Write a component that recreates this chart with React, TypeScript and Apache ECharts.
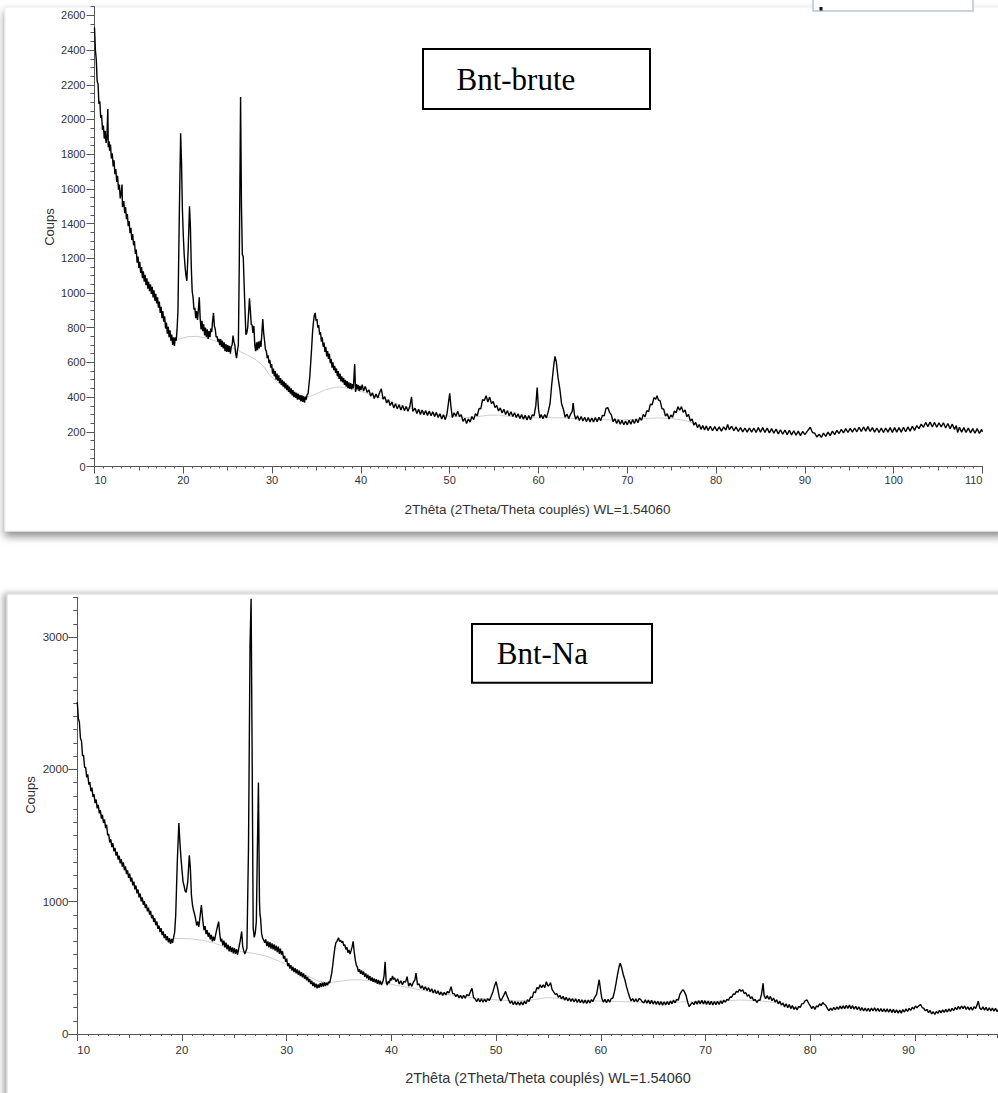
import React, { useEffect, useRef } from "react";
import * as echarts from "echarts";

// ---------- DATA ----------
const xAxisTitle = "2Thêta (2Theta/Theta couplés) WL=1.54060";
const yAxisTitle = "Coups";
const sampleNames = ["Bnt-brute", "Bnt-Na"];

const bruteXTicks = [10, 20, 30, 40, 50, 60, 70, 80, 90, 100, 110];
const bruteYTicks = [0, 200, 400, 600, 800, 1000, 1200, 1400, 1600, 1800, 2000, 2200, 2400, 2600];
const naXTicks = [10, 20, 30, 40, 50, 60, 70, 80, 90];
const naYTicks = [0, 1000, 2000, 3000];

// Bnt-brute diffractogram [2theta, counts]
const bntBrutePoints: [number, number][] = [
  [10.0,2530],[10.1,2400],[10.2,2345],[10.3,2220],[10.4,2205],[10.5,2090],[10.6,2105],[10.7,2010],[10.8,2025],[10.9,1940],
  [11.0,1965],[11.1,1890],[11.2,1935],[11.3,1865],[11.4,1900],[11.5,2060],[11.55,1840],[11.65,1875],[11.7,1820],[11.8,1855],
  [11.9,1775],[12.0,1805],[12.1,1730],[12.2,1765],[12.3,1685],[12.4,1715],[12.5,1640],[12.6,1675],[12.7,1595],[12.8,1625],
  [12.9,1545],[13.0,1575],[13.1,1625],[13.15,1495],[13.3,1530],[13.4,1460],[13.5,1495],[13.6,1425],[13.7,1455],[13.8,1385],
  [13.9,1415],[14.0,1345],[14.1,1375],[14.2,1305],[14.3,1340],[14.4,1275],[14.5,1300],[14.6,1225],[14.7,1250],[14.8,1175],
  [14.9,1210],[15.0,1145],[15.1,1180],[15.2,1115],[15.3,1150],[15.4,1085],[15.5,1125],[15.6,1065],[15.7,1105],[15.8,1045],
  [15.9,1085],[16.0,1025],[16.1,1065],[16.2,1010],[16.3,1050],[16.4,995],[16.5,1035],[16.6,975],[16.7,1015],[16.8,955],
  [16.9,995],[17.0,940],[17.1,975],[17.2,915],[17.3,950],[17.4,885],[17.5,920],[17.6,855],[17.7,895],[17.8,835],
  [17.9,865],[18.0,795],[18.1,830],[18.2,765],[18.3,805],[18.4,745],[18.5,785],[18.6,725],[18.7,760],[18.8,700],
  [18.9,745],[19.0,695],[19.1,745],[19.2,725],[19.3,790],[19.4,900],[19.55,1450],[19.7,1920],[19.8,1750],[19.9,1480],
  [20.0,1330],[20.1,1220],[20.2,1150],[20.3,1100],[20.4,1070],[20.55,1250],[20.7,1500],[20.8,1380],[20.9,1150],[21.0,1010],
  [21.1,975],[21.2,905],[21.3,915],[21.4,855],[21.5,895],[21.6,845],[21.7,905],[21.8,975],[21.9,855],[22.0,790],
  [22.1,840],[22.2,780],[22.3,820],[22.4,755],[22.5,800],[22.6,745],[22.7,790],[22.8,735],[22.9,780],[23.0,745],
  [23.1,795],[23.2,775],[23.3,840],[23.4,885],[23.5,810],[23.6,790],[23.7,745],[23.8,750],[23.9,720],[24.0,735],
  [24.1,700],[24.2,735],[24.3,690],[24.4,725],[24.5,680],[24.6,715],[24.7,665],[24.8,705],[24.9,660],[25.0,700],
  [25.1,660],[25.2,695],[25.3,650],[25.4,690],[25.5,700],[25.6,755],[25.7,720],[25.8,700],[25.9,650],[26.0,625],
  [26.1,670],[26.2,700],[26.3,1150],[26.45,2130],[26.55,1500],[26.65,1220],[26.75,1210],[26.85,1050],[26.95,900],[27.05,760],
  [27.15,770],[27.25,800],[27.35,880],[27.45,970],[27.55,900],[27.65,820],[27.75,815],[27.85,770],[27.95,810],[28.05,700],
  [28.15,665],[28.25,715],[28.35,670],[28.45,720],[28.55,680],[28.65,725],[28.75,690],[28.85,770],[28.95,850],[29.05,770],
  [29.15,725],[29.25,675],[29.35,665],[29.45,625],[29.55,640],[29.65,595],[29.75,615],[29.85,570],[29.95,590],[30.05,535],
  [30.15,565],[30.25,520],[30.35,550],[30.45,500],[30.55,535],[30.65,495],[30.75,525],[30.85,480],[30.95,510],[31.05,470],
  [31.15,500],[31.25,460],[31.35,490],[31.45,450],[31.55,480],[31.65,440],[31.75,470],[31.85,430],[31.95,460],[32.05,420],
  [32.15,450],[32.25,410],[32.35,440],[32.45,400],[32.55,430],[32.65,395],[32.75,425],[32.85,385],[32.95,418],[33.05,385],
  [33.15,412],[33.25,375],[33.35,410],[33.45,372],[33.55,405],[33.65,368],[33.75,402],[33.85,385],[33.95,415],[34.05,420],
  [34.15,470],[34.25,520],[34.35,600],[34.45,680],[34.55,770],[34.65,830],[34.75,870],[34.85,885],[34.95,840],[35.05,850],
  [35.15,800],[35.25,815],[35.35,760],[35.45,775],[35.55,720],[35.65,745],[35.75,690],[35.85,715],[35.95,660],[36.05,690],
  [36.15,635],[36.25,665],[36.35,620],[36.45,650],[36.55,595],[36.65,620],[36.75,570],[36.85,600],[36.95,555],[37.05,580],
  [37.15,540],[37.25,565],[37.35,520],[37.45,550],[37.55,505],[37.65,535],[37.75,490],[37.85,520],[37.95,485],[38.05,510],
  [38.15,470],[38.25,500],[38.35,460],[38.45,492],[38.55,452],[38.65,485],[38.75,448],[38.85,480],[38.95,445],[39.05,475],
  [39.15,450],[39.3,590],[39.4,430],[39.5,475],[39.6,445],[39.7,470],[39.8,435],[39.9,465],[40.0,440],[40.15,472],
  [40.3,435],[40.5,462],[40.7,428],[40.9,442],[41.1,406],[41.3,425],[41.5,392],[41.7,418],[41.9,395],[42.1,425],
  [42.3,448],[42.5,388],[42.7,402],[42.9,366],[43.1,385],[43.3,352],[43.5,372],[43.7,338],[43.9,362],[44.1,332],
  [44.3,356],[44.5,326],[44.7,352],[44.9,322],[45.1,346],[45.3,318],[45.5,344],[45.7,402],[45.85,318],[46.1,336],
  [46.3,306],[46.5,330],[46.7,300],[46.9,326],[47.1,298],[47.3,322],[47.5,294],[47.7,320],[47.9,292],[48.1,316],
  [48.3,288],[48.5,312],[48.7,282],[48.9,304],[49.1,274],[49.3,298],[49.5,270],[49.7,305],[49.85,362],[50.0,422],
  [50.15,340],[50.3,282],[50.5,310],[50.7,290],[50.9,318],[51.1,288],[51.3,298],[51.5,260],[51.7,278],[51.9,248],
  [52.1,274],[52.3,256],[52.5,288],[52.7,270],[52.9,305],[53.1,292],[53.3,334],[53.5,332],[53.7,385],[53.9,380],
  [54.1,408],[54.3,372],[54.5,400],[54.7,362],[54.9,375],[55.1,340],[55.3,352],[55.5,320],[55.7,338],[55.9,308],
  [56.1,330],[56.3,300],[56.5,322],[56.7,292],[56.9,316],[57.1,288],[57.3,310],[57.5,282],[57.7,304],[57.9,276],
  [58.1,300],[58.3,272],[58.5,296],[58.7,268],[58.9,294],[59.1,270],[59.3,298],[59.5,292],[59.7,352],[59.85,455],
  [60.0,330],[60.15,280],[60.3,300],[60.5,276],[60.7,300],[60.9,280],[61.1,318],[61.3,362],[61.5,478],[61.7,575],
  [61.85,635],[62.0,605],[62.2,512],[62.4,448],[62.6,362],[62.8,330],[63.0,284],[63.2,302],[63.4,276],[63.6,300],
  [63.8,318],[63.9,365],[64.05,298],[64.2,272],[64.4,292],[64.6,265],[64.8,288],[65.0,262],[65.2,284],[65.4,258],
  [65.6,282],[65.8,256],[66.0,280],[66.2,256],[66.4,282],[66.6,258],[66.8,284],[67.0,264],[67.2,295],[67.4,292],
  [67.6,335],[67.8,340],[68.0,312],[68.2,298],[68.4,258],[68.6,275],[68.8,248],[69.0,270],[69.2,244],[69.4,266],
  [69.6,240],[69.8,262],[70.0,240],[70.2,266],[70.4,244],[70.6,270],[70.8,248],[71.0,274],[71.2,252],[71.4,282],
  [71.6,266],[71.8,300],[72.0,286],[72.2,322],[72.4,316],[72.6,360],[72.8,356],[73.0,397],[73.2,388],[73.35,408],
  [73.5,384],[73.7,378],[73.9,334],[74.1,330],[74.3,290],[74.5,304],[74.7,274],[74.9,297],[75.1,284],[75.3,320],
  [75.5,310],[75.7,345],[75.9,324],[76.1,345],[76.3,312],[76.5,326],[76.7,288],[76.9,300],[77.1,262],[77.3,274],
  [77.5,238],[77.7,254],[77.9,224],[78.1,242],[78.3,214],[78.5,236],[78.7,210],[78.9,234],[79.1,208],[79.35,232],
  [79.6,206],[79.85,230],[80.1,205],[80.35,228],[80.6,204],[80.85,228],[81.1,210],[81.3,242],[81.5,212],[81.75,232],
  [82.0,206],[82.25,228],[82.5,202],[82.75,224],[83.0,200],[83.25,222],[83.5,198],[83.75,222],[84.0,198],[84.25,222],
  [84.5,196],[84.75,224],[85.0,198],[85.25,224],[85.5,196],[85.75,222],[86.0,194],[86.25,218],[86.5,192],[86.75,216],
  [87.0,188],[87.25,212],[87.5,186],[87.75,210],[88.0,184],[88.25,208],[88.5,182],[88.75,206],[89.0,180],[89.25,204],
  [89.5,178],[89.75,202],[90.0,184],[90.3,205],[90.6,226],[90.85,196],[91.1,192],[91.35,170],[91.6,186],[91.85,168],
  [92.1,192],[92.35,174],[92.6,198],[92.85,178],[93.1,204],[93.35,184],[93.6,208],[93.85,190],[94.1,214],[94.35,194],
  [94.6,218],[94.85,196],[95.1,220],[95.35,198],[95.6,222],[95.85,200],[96.1,226],[96.35,202],[96.6,228],[96.85,204],
  [97.1,230],[97.35,202],[97.6,224],[97.85,198],[98.1,222],[98.35,196],[98.6,222],[98.85,196],[99.1,222],[99.35,198],
  [99.6,224],[99.85,196],[100.1,224],[100.35,198],[100.6,224],[100.85,198],[101.1,226],[101.35,200],[101.6,228],[101.85,204],
  [102.1,232],[102.35,208],[102.6,236],[102.85,218],[103.1,244],[103.35,226],[103.6,254],[103.85,230],[104.1,256],[104.35,228],
  [104.6,254],[104.85,226],[105.1,252],[105.35,228],[105.6,252],[105.85,222],[106.1,248],[106.35,218],[106.6,244],[106.85,214],
  [107.05,236],[107.2,196],[107.4,226],[107.65,198],[107.9,224],[108.15,196],[108.4,222],[108.65,194],[108.9,218],[109.15,192],
  [109.4,218],[109.65,190],[109.9,214],[110.0,200]
];

// Bnt-brute fitted background (light grey)
const bntBruteBackground: [number, number][] = [
  [19.0,722],[19.5,735],[20.5,748],[21.5,750],[22.5,742],[23.5,725],[24.5,705],[25.5,684],[26.4,662],[27.5,635],
  [28.2,614],[29.0,580],[29.7,527],[30.5,490],[31.5,452],[32.5,425],[33.5,406],[34.2,402],[35.0,420],[36.0,442],
  [37.0,455],[37.6,458],[38.5,452],[39.5,440],[40.5,425],[42.0,400],[44.0,362],[46.0,330],[48.0,305],[50.0,290],
  [52.0,282],[53.5,290],[54.5,296],[55.5,296],[56.5,290],[58.0,284],[60.0,280],[61.5,281],[63.0,280],[65.0,274],
  [67.0,270],[69.0,268],[71.0,272],[72.5,278],[73.5,280],[75.0,276],[76.5,265],[78.0,240]
];

// Bnt-Na diffractogram [2theta, counts]
const bntNaPoints: [number, number][] = [
  [10.0,2510],[10.1,2385],[10.2,2355],[10.3,2235],[10.4,2215],[10.5,2105],[10.6,2105],[10.7,2015],[10.8,2015],[10.9,1940],
  [11.0,1962],[11.1,1885],[11.2,1905],[11.3,1835],[11.4,1862],[11.5,1792],[11.6,1812],[11.7,1745],[11.8,1772],[11.9,1705],
  [12.0,1732],[12.1,1668],[12.2,1692],[12.3,1628],[12.4,1657],[12.5,1595],[12.6,1622],[12.7,1556],[12.8,1582],[12.9,1502],
  [13.0,1512],[13.1,1448],[13.2,1472],[13.3,1412],[13.4,1442],[13.5,1380],[13.6,1407],[13.7,1348],[13.8,1377],[13.9,1318],
  [14.0,1347],[14.1,1290],[14.2,1322],[14.3,1265],[14.4,1297],[14.5,1238],[14.6,1267],[14.7,1208],[14.8,1237],[14.9,1180],
  [15.0,1212],[15.1,1153],[15.2,1182],[15.3,1123],[15.4,1152],[15.5,1093],[15.6,1122],[15.7,1063],[15.8,1092],[15.9,1033],
  [16.0,1062],[16.1,1003],[16.2,1032],[16.3,977],[16.4,1005],[16.5,952],[16.6,980],[16.7,927],[16.8,955],[16.9,902],
  [17.0,930],[17.1,875],[17.2,900],[17.3,847],[17.4,875],[17.5,822],[17.6,850],[17.7,795],[17.8,820],[17.9,770],
  [18.0,800],[18.1,747],[18.2,775],[18.3,725],[18.4,755],[18.5,707],[18.6,740],[18.7,692],[18.8,725],[18.9,682],
  [19.0,718],[19.1,688],[19.2,730],[19.3,770],[19.4,900],[19.55,1300],[19.7,1595],[19.8,1450],[19.9,1330],[20.0,1240],
  [20.1,1150],[20.2,1120],[20.3,1080],[20.4,1070],[20.55,1150],[20.7,1350],[20.8,1250],[20.9,1050],[21.0,975],[21.1,935],
  [21.2,905],[21.3,870],[21.4,820],[21.5,850],[21.6,810],[21.7,870],[21.85,975],[22.0,850],[22.1,785],[22.2,815],
  [22.3,755],[22.4,785],[22.5,735],[22.6,765],[22.7,715],[22.8,750],[22.9,700],[23.0,735],[23.1,705],[23.2,745],
  [23.35,800],[23.5,850],[23.6,760],[23.7,700],[23.8,720],[23.9,670],[24.0,705],[24.1,655],[24.2,690],[24.3,640],
  [24.4,675],[24.5,625],[24.6,665],[24.7,620],[24.8,655],[24.9,610],[25.0,650],[25.1,605],[25.2,642],[25.3,600],
  [25.4,640],[25.55,700],[25.7,775],[25.8,660],[25.9,630],[26.0,605],[26.1,625],[26.2,650],[26.35,1400],[26.5,2950],
  [26.6,3290],[26.7,2100],[26.8,800],[26.9,730],[27.0,765],[27.1,850],[27.2,1400],[27.3,1900],[27.4,1000],[27.45,900],
  [27.5,880],[27.6,760],[27.7,725],[27.8,710],[27.9,690],[28.0,715],[28.1,665],[28.2,700],[28.3,655],[28.4,695],
  [28.5,645],[28.6,685],[28.7,640],[28.8,678],[28.9,630],[29.0,668],[29.1,618],[29.2,660],[29.3,605],[29.4,645],
  [29.5,600],[29.6,625],[29.7,570],[29.8,590],[29.9,545],[30.0,570],[30.1,512],[30.2,535],[30.3,495],[30.4,520],
  [30.5,480],[30.6,508],[30.7,468],[30.8,498],[30.9,458],[31.0,488],[31.1,448],[31.2,478],[31.3,438],[31.4,468],
  [31.5,428],[31.6,458],[31.7,418],[31.8,445],[31.9,405],[32.0,432],[32.1,392],[32.2,415],[32.3,378],[32.4,402],
  [32.5,362],[32.6,390],[32.7,352],[32.8,380],[32.9,345],[33.0,375],[33.1,350],[33.2,385],[33.3,355],[33.4,388],
  [33.5,358],[33.6,392],[33.7,362],[33.8,388],[33.9,368],[34.0,395],[34.1,385],[34.2,420],[34.3,460],[34.4,520],
  [34.5,590],[34.6,650],[34.7,690],[34.8,700],[34.95,728],[35.05,700],[35.15,708],[35.25,690],[35.35,702],[35.45,668],
  [35.55,675],[35.65,640],[35.75,655],[35.85,615],[35.95,635],[36.05,605],[36.15,630],[36.25,660],[36.35,700],[36.45,620],
  [36.55,560],[36.65,520],[36.75,505],[36.85,470],[36.95,490],[37.05,455],[37.15,480],[37.25,448],[37.35,472],[37.45,432],
  [37.55,458],[37.65,420],[37.75,448],[37.85,410],[37.95,438],[38.05,402],[38.15,428],[38.25,395],[38.35,420],[38.45,388],
  [38.55,415],[38.65,380],[38.75,408],[38.85,375],[38.95,402],[39.05,370],[39.2,400],[39.3,440],[39.4,545],[39.5,395],
  [39.6,370],[39.7,400],[39.8,385],[39.9,420],[40.0,405],[40.1,438],[40.2,412],[40.3,425],[40.45,395],[40.6,418],
  [40.75,378],[40.9,402],[41.05,372],[41.2,398],[41.35,392],[41.5,433],[41.65,362],[41.8,385],[41.95,360],[42.1,392],
  [42.25,410],[42.35,460],[42.5,372],[42.65,378],[42.8,345],[42.95,365],[43.1,335],[43.25,358],[43.4,328],[43.55,350],
  [43.7,320],[43.85,342],[44.0,310],[44.15,335],[44.3,304],[44.45,326],[44.6,296],[44.75,318],[44.9,292],[45.05,315],
  [45.2,296],[45.35,322],[45.5,310],[45.7,358],[45.85,305],[46.0,305],[46.15,282],[46.3,300],[46.45,272],[46.6,292],
  [46.75,268],[46.9,292],[47.05,270],[47.2,298],[47.4,290],[47.55,320],[47.7,345],[47.85,275],[48.0,265],[48.15,245],
  [48.3,268],[48.45,242],[48.6,266],[48.75,240],[48.9,264],[49.05,242],[49.2,268],[49.35,252],[49.5,280],[49.7,320],
  [49.85,362],[50.0,395],[50.15,345],[50.3,280],[50.45,250],[50.6,272],[50.75,296],[50.9,322],[51.05,288],[51.2,258],
  [51.35,232],[51.5,250],[51.65,222],[51.8,246],[51.95,220],[52.1,244],[52.25,218],[52.4,244],[52.55,220],[52.7,248],
  [52.85,228],[53.0,258],[53.15,246],[53.3,280],[53.45,275],[53.6,318],[53.75,312],[53.9,352],[54.05,340],[54.2,372],
  [54.35,350],[54.5,372],[54.65,350],[54.8,395],[54.95,362],[55.1,372],[55.2,388],[55.35,335],[55.5,318],[55.65,300],
  [55.8,305],[55.95,278],[56.1,292],[56.25,265],[56.4,285],[56.55,256],[56.7,278],[56.85,250],[57.0,272],[57.15,246],
  [57.3,268],[57.45,242],[57.6,266],[57.75,238],[57.9,262],[58.05,236],[58.2,258],[58.35,232],[58.5,256],[58.65,230],
  [58.8,256],[58.95,234],[59.1,260],[59.25,246],[59.4,275],[59.6,300],[59.75,370],[59.85,410],[60.0,320],[60.1,270],
  [60.25,240],[60.4,262],[60.55,236],[60.7,262],[60.85,240],[61.0,268],[61.15,272],[61.3,318],[61.45,380],[61.6,450],
  [61.75,510],[61.85,535],[62.0,500],[62.15,448],[62.3,410],[62.45,360],[62.6,318],[62.75,280],[62.9,250],[63.05,268],
  [63.2,244],[63.35,266],[63.5,242],[63.65,268],[63.8,262],[63.95,245],[64.1,234],[64.25,258],[64.4,232],[64.55,256],
  [64.7,228],[64.85,254],[65.0,226],[65.15,250],[65.3,224],[65.45,248],[65.6,220],[65.75,246],[65.9,218],[66.05,244],
  [66.2,220],[66.35,246],[66.5,222],[66.65,250],[66.8,228],[66.95,256],[67.1,236],[67.25,262],[67.4,255],[67.55,300],
  [67.7,320],[67.85,335],[68.0,318],[68.15,290],[68.3,240],[68.45,206],[68.6,225],[68.75,238],[68.9,222],[69.05,248],
  [69.2,226],[69.35,252],[69.5,228],[69.65,254],[69.8,226],[69.95,252],[70.1,224],[70.25,250],[70.4,222],[70.55,248],
  [70.7,220],[70.85,246],[71.0,222],[71.15,248],[71.3,224],[71.45,250],[71.6,230],[71.75,256],[71.9,240],[72.05,262],
  [72.2,256],[72.35,280],[72.5,278],[72.65,302],[72.8,300],[72.95,322],[73.1,316],[73.25,338],[73.4,322],[73.55,335],
  [73.7,306],[73.85,312],[74.0,286],[74.15,296],[74.3,268],[74.45,282],[74.6,252],[74.75,262],[74.9,238],[75.05,256],
  [75.2,255],[75.35,300],[75.5,383],[75.6,290],[75.75,268],[75.9,290],[76.05,262],[76.2,284],[76.35,252],[76.5,272],
  [76.65,242],[76.8,258],[76.95,228],[77.1,248],[77.25,218],[77.4,235],[77.55,205],[77.7,228],[77.85,198],[78.0,222],
  [78.15,192],[78.3,215],[78.45,186],[78.6,205],[78.75,182],[78.9,210],[79.05,200],[79.2,228],[79.35,230],[79.5,250],
  [79.7,257],[79.85,232],[80.0,215],[80.15,192],[80.3,210],[80.45,186],[80.6,212],[80.75,205],[80.9,228],[81.05,215],
  [81.2,238],[81.35,225],[81.5,215],[81.65,192],[81.8,176],[81.95,196],[82.1,178],[82.25,202],[82.4,182],[82.55,206],
  [82.7,186],[82.85,212],[83.0,190],[83.15,214],[83.3,192],[83.45,216],[83.6,194],[83.75,218],[83.9,192],[84.05,214],
  [84.2,188],[84.35,210],[84.5,184],[84.65,206],[84.8,178],[84.95,200],[85.1,174],[85.25,196],[85.4,172],[85.55,194],
  [85.7,170],[85.85,196],[86.0,174],[86.15,198],[86.3,172],[86.45,194],[86.6,170],[86.75,192],[86.9,168],[87.05,190],
  [87.2,166],[87.35,190],[87.5,164],[87.65,188],[87.8,162],[87.95,186],[88.1,160],[88.25,182],[88.4,158],[88.55,180],
  [88.7,158],[88.85,184],[89.0,166],[89.15,190],[89.3,170],[89.45,194],[89.6,178],[89.75,202],[89.9,188],[90.05,212],
  [90.2,198],[90.4,215],[90.55,222],[90.7,200],[90.85,194],[91.0,175],[91.15,186],[91.3,162],[91.45,178],[91.6,152],
  [91.75,168],[91.9,148],[92.05,170],[92.2,156],[92.35,178],[92.5,160],[92.65,182],[92.8,164],[92.95,186],[93.1,166],
  [93.25,190],[93.4,170],[93.55,194],[93.7,176],[93.85,200],[94.0,184],[94.15,208],[94.3,188],[94.45,212],[94.6,192],
  [94.75,212],[94.9,186],[95.05,206],[95.2,182],[95.35,204],[95.5,180],[95.65,206],[95.8,192],[95.95,222],[96.05,248],
  [96.2,196],[96.35,184],[96.5,206],[96.65,180],[96.8,202],[96.95,176],[97.1,198],[97.25,174],[97.4,196],[97.55,172],
  [97.7,194],[97.85,170],[98.0,188]
];

// Bnt-Na fitted background (light grey)
const bntNaBackground: [number, number][] = [
  [19.2,722],[20.0,722],[21.0,718],[22.0,708],[23.0,690],[24.0,660],[25.0,635],[26.0,618],[26.8,610],[28.0,590],
  [29.0,560],[29.7,535],[30.5,500],[32.0,440],[33.0,400],[34.0,388],[35.0,398],[36.0,408],[37.0,410],[38.0,402],
  [39.0,390],[40.0,375],[42.0,345],[44.0,315],[46.0,292],[48.0,272],[50.0,258],[52.0,250],[53.5,258],[54.8,275],
  [56.0,270],[57.5,258],[59.0,250],[60.5,248],[62.0,244],[63.5,242],[65.0,240],[67.0,242],[69.0,245],[71.0,248],
  [73.3,257],[75.0,252],[76.5,240],[78.0,215]
];

// ---------- STYLE ----------
const SANS = "'Liberation Sans', Arial, Helvetica, sans-serif";
const SERIF = "'Liberation Serif', 'Times New Roman', serif";
const AXIS = "#555";
const LABEL = "#333";
const plain = (v: number) => String(v);

function xAxesFor(grid: number, min: number, max: number, ticks: number[], fontSize: number, margin: number) {
  return [
    {
      type: "value", gridIndex: grid, min, max, interval: 10, position: "bottom",
      axisLine: { show: true, onZero: false, lineStyle: { color: AXIS, width: 1 } },
      axisTick: { show: true, length: 7, customValues: ticks, lineStyle: { color: AXIS } },
      axisLabel: {
        show: true, customValues: ticks, formatter: plain, fontSize, color: LABEL, fontFamily: SANS, margin,
        alignMinLabel: "left", alignMaxLabel: "right",
      },
      splitLine: { show: false },
    },
    {
      type: "value", gridIndex: grid, min, max, interval: 5, position: "bottom",
      axisLine: { show: false, onZero: false },
      axisTick: { show: true, length: 4, lineStyle: { color: AXIS } },
      axisLabel: { show: false }, splitLine: { show: false },
    },
    {
      type: "value", gridIndex: grid, min, max, interval: 1, position: "bottom",
      axisLine: { show: false, onZero: false },
      axisTick: { show: true, length: 2, lineStyle: { color: AXIS } },
      axisLabel: { show: false }, splitLine: { show: false },
    },
  ];
}

function yAxesFor(grid: number, max: number, major: number, minor: number, ticks: number[], fontSize: number, majorLen: number) {
  return [
    {
      type: "value", gridIndex: grid, min: 0, max, interval: major, position: "left",
      axisLine: { show: true, onZero: false, lineStyle: { color: AXIS, width: 1 } },
      axisTick: { show: true, length: majorLen, customValues: ticks, lineStyle: { color: AXIS } },
      axisLabel: { show: true, customValues: ticks, formatter: plain, fontSize, color: LABEL, fontFamily: SANS, margin: 9 },
      splitLine: { show: false },
    },
    {
      type: "value", gridIndex: grid, min: 0, max, interval: minor, position: "left",
      axisLine: { show: false, onZero: false },
      axisTick: { show: true, length: 4, lineStyle: { color: AXIS } },
      axisLabel: { show: false }, splitLine: { show: false },
    },
  ];
}

export default function App() {
  const ref = useRef<HTMLDivElement>(null);

  useEffect(() => {
    if (!ref.current) return;
    const chart = echarts.init(ref.current, undefined, { renderer: "svg" });

    const option: any = {
      animation: false,
      backgroundColor: "#ffffff",
      grid: [
        { left: 94.5, top: 6.7, width: 888, height: 459.8, containLabel: false, outerBoundsMode: "none" },
        { left: 77.3, top: 597.4, width: 920.3, height: 436.6, containLabel: false, outerBoundsMode: "none" },
      ],
      xAxis: [
        ...xAxesFor(0, 10, 110, bruteXTicks, 11, 8),
        ...xAxesFor(1, 10, 97.9, naXTicks, 11.5, 10),
      ],
      yAxis: [
        ...yAxesFor(0, 2650, 200, 50, bruteYTicks, 11, 8),
        ...yAxesFor(1, 3300, 1000, 100, naYTicks, 11.5, 9),
      ],
      series: [
        {
          type: "line", xAxisIndex: 0, yAxisIndex: 0, data: bntBruteBackground, showSymbol: false, silent: true,
          lineStyle: { color: "#cfcfcf", width: 1 }, z: 1,
        },
        {
          type: "line", xAxisIndex: 0, yAxisIndex: 0, data: bntBrutePoints, showSymbol: false, silent: true,
          lineStyle: { color: "#000000", width: 1.4 }, z: 3,
        },
        {
          type: "line", xAxisIndex: 3, yAxisIndex: 2, data: bntNaBackground, showSymbol: false, silent: true,
          lineStyle: { color: "#cfcfcf", width: 1 }, z: 1,
        },
        {
          type: "line", xAxisIndex: 3, yAxisIndex: 2, data: bntNaPoints, showSymbol: false, silent: true,
          lineStyle: { color: "#000000", width: 1.4 }, z: 3,
        },
      ],
      graphic: [
        {
          type: "rect", z: -10, silent: true,
          shape: { x: 5, y: 7, width: 1000, height: 524 },
          style: { fill: "#ffffff", stroke: "#ececec", lineWidth: 1, shadowBlur: 8, shadowOffsetY: 5, shadowColor: "rgba(0,0,0,0.45)" },
        },
        {
          type: "rect", z: -10, silent: true,
          shape: { x: 7, y: 594, width: 1000, height: 520 },
          style: { fill: "#ffffff", stroke: "#d6d6d6", lineWidth: 1, shadowBlur: 6, shadowOffsetX: -3, shadowColor: "rgba(0,0,0,0.35)" },
        },
        {
          type: "rect", z: 5, silent: true,
          shape: { x: 813, y: -5, width: 160, height: 16 },
          style: { fill: "#ffffff", stroke: "#b9c4d8", lineWidth: 1.5 },
        },
        {
          type: "rect", z: 6, silent: true,
          shape: { x: 819.5, y: 7, width: 3, height: 3.5 },
          style: { fill: "#111" },
        },
        {
          type: "rect", z: 10, silent: true,
          shape: { x: 423, y: 49, width: 227, height: 60 },
          style: { fill: "#ffffff", stroke: "#000000", lineWidth: 2 },
        },
        {
          type: "text", z: 11, silent: true, x: 456.5, y: 79,
          style: { text: sampleNames[0], font: `31px ${SERIF}`, fill: "#000", align: "left", verticalAlign: "middle" },
        },
        {
          type: "rect", z: 10, silent: true,
          shape: { x: 472, y: 624, width: 180, height: 58.7 },
          style: { fill: "#ffffff", stroke: "#000000", lineWidth: 2 },
        },
        {
          type: "text", z: 11, silent: true, x: 496.7, y: 653,
          style: { text: sampleNames[1], font: `31px ${SERIF}`, fill: "#000", align: "left", verticalAlign: "middle" },
        },
        {
          type: "text", z: 5, silent: true, x: 537.5, y: 509,
          style: { text: xAxisTitle, font: `13.5px ${SANS}`, fill: LABEL, align: "center", verticalAlign: "middle" },
        },
        {
          type: "text", z: 5, silent: true, x: 548, y: 1078,
          style: { text: xAxisTitle, font: `14.5px ${SANS}`, fill: LABEL, align: "center", verticalAlign: "middle" },
        },
        {
          type: "text", z: 5, silent: true, x: 49, y: 227, rotation: Math.PI / 2,
          style: { text: yAxisTitle, font: `13px ${SANS}`, fill: LABEL, align: "center", verticalAlign: "middle" },
        },
        {
          type: "text", z: 5, silent: true, x: 30, y: 795, rotation: Math.PI / 2,
          style: { text: yAxisTitle, font: `13px ${SANS}`, fill: LABEL, align: "center", verticalAlign: "middle" },
        },
      ],
    };

    chart.setOption(option);
    return () => chart.dispose();
  }, []);

  return (
    <div
      ref={ref}
      style={{ position: "fixed", left: 0, top: 0, width: 998, height: 1093, background: "#fff" }}
    />
  );
}
